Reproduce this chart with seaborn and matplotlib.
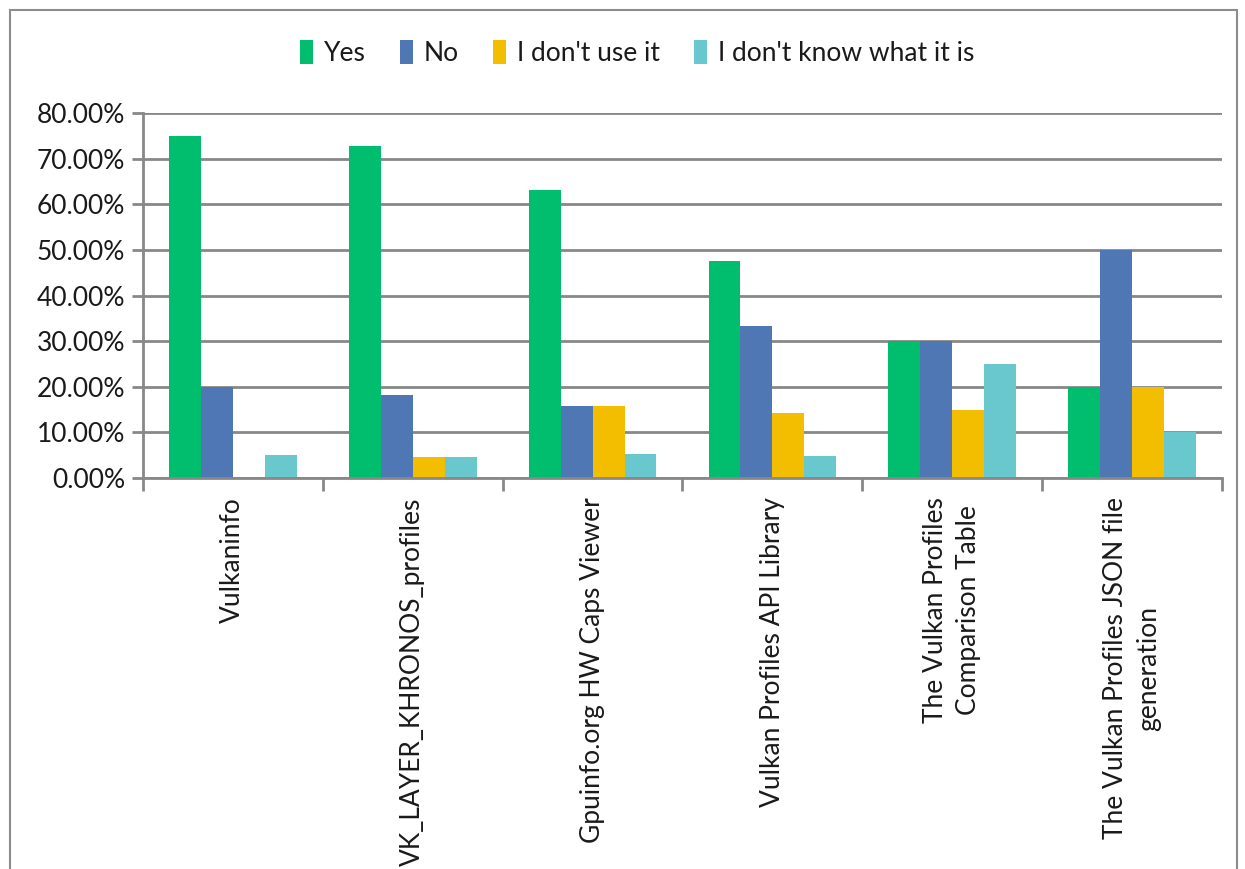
import pandas as pd
import numpy as np
import matplotlib
matplotlib.use("Agg")
import matplotlib.pyplot as plt
import seaborn as sns
from matplotlib.ticker import PercentFormatter, FixedLocator
from matplotlib.patches import Rectangle

# data (percent of respondents)
tools = ["Vulkaninfo",
         "VK_LAYER_KHRONOS_profiles",
         "Gpuinfo.org HW Caps Viewer",
         "Vulkan Profiles API Library",
         "The Vulkan Profiles\nComparison Table",
         "The Vulkan Profiles JSON file\ngeneration"]
answers = ["Yes", "No", "I don't use it", "I don't know what it is"]
yes_vals = [75.0, 72.73, 63.16, 47.62, 30.0, 20.0]
no_vals = [20.0, 18.18, 15.79, 33.33, 30.0, 50.0]
dont_use_vals = [0.0, 4.55, 15.79, 14.29, 15.0, 20.0]
dont_know_vals = [5.0, 4.55, 5.26, 4.76, 25.0, 10.0]
colors = ["#00BE6E", "#4F77B4", "#F3BE00", "#69C8CE"]

rows = []
for vals, ans in zip([yes_vals, no_vals, dont_use_vals, dont_know_vals], answers):
    for t, v in zip(tools, vals):
        rows.append({"tool": t, "answer": ans, "share": v})
df = pd.DataFrame(rows)

sns.set_style("white")
plt.rcParams["font.family"] = ["Lato", "DejaVu Sans"]
txt = "#1a1a1a"
grey = "#888888"
fs = 19

fig = plt.figure(figsize=(12.45, 8.69), dpi=100)
ax = fig.add_axes([143 / 1245, 1 - 478 / 869, (1222 - 143) / 1245, (478 - 113) / 869])

sns.barplot(data=df, x="tool", y="share", hue="answer", hue_order=answers,
            order=tools, palette=colors, saturation=1, width=0.71,
            linewidth=0, ax=ax)

ax.set_ylim(0, 80)
ax.set_xlim(-0.5, len(tools) - 0.5)
ax.yaxis.set_major_locator(FixedLocator(np.arange(0, 81, 10)))
ax.yaxis.set_major_formatter(PercentFormatter(xmax=100, decimals=2))
ax.set_axisbelow(True)
ax.grid(axis="y", color=grey, linewidth=2)
ax.set_xlabel("")
ax.set_ylabel("")

for s in ["top", "right"]:
    ax.spines[s].set_visible(False)
for s in ["left", "bottom"]:
    ax.spines[s].set_color(grey)
    ax.spines[s].set_linewidth(2)

ax.tick_params(axis="y", left=True, length=8, width=2, color=grey,
               labelsize=fs, labelcolor=txt, pad=5)
ax.set_xticks(range(len(tools)))
ax.set_xticklabels(tools, rotation=90, ha="center", va="top",
                   multialignment="center", linespacing=1.4)
ax.tick_params(axis="x", which="major", length=0, labelsize=fs,
               labelcolor=txt, pad=14)
ax.set_xticks(np.arange(-0.5, len(tools), 1), minor=True)
ax.tick_params(axis="x", which="minor", bottom=True, length=9, width=2,
               color=grey)

handles, labels = ax.get_legend_handles_labels()
ax.legend(handles, labels, loc="center", ncol=4, frameon=False,
          bbox_to_anchor=(637 / 1245, 1 - 53 / 869),
          bbox_transform=fig.transFigure, fontsize=fs,
          handlelength=0.5, handleheight=1.0, handletextpad=0.4,
          columnspacing=1.3, labelcolor=txt)

# outer chart frame
fig.patches.append(Rectangle((10 / 1245, -0.1), 1227 / 1245, 1.1 - 10 / 869,
                             transform=fig.transFigure, fill=False,
                             edgecolor="#8c8c8c", linewidth=1.5))

fig.savefig("out.png", dpi=100)
